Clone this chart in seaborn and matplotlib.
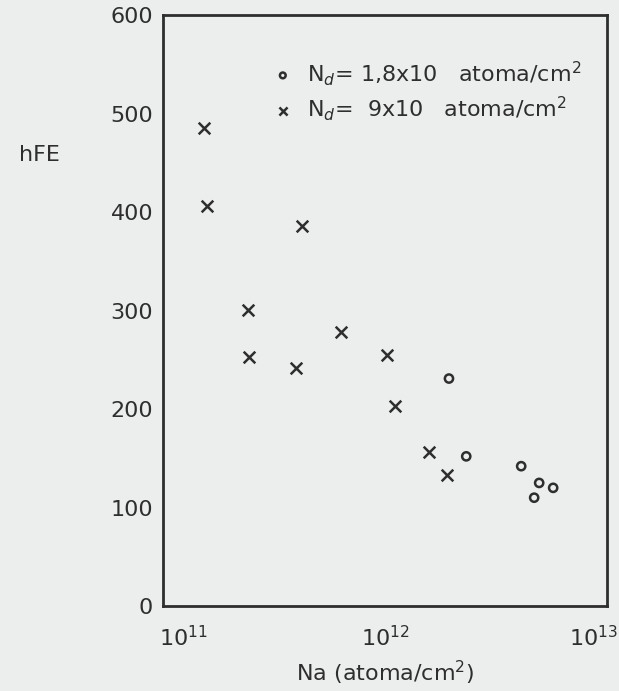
import numpy as np
import pandas as pd
import matplotlib
matplotlib.use('Agg')
import matplotlib.pyplot as plt
import matplotlib.transforms as mtransforms
import seaborn as sns

# series
na_cross = [1.53e11, 1.58e11, 4.23e11, 2.42e11, 2.44e11, 6.34e11,
            3.97e11, 1.02e12, 1.11e12, 1.58e12, 1.90e12]
hfe_cross = [485, 406, 386, 301, 253, 278, 242, 255, 203, 156, 133]
na_circle = [1.94e12, 2.32e12, 4.10e12, 4.94e12, 5.71e12, 4.69e12]
hfe_circle = [231, 152, 142, 125, 120, 110]

label_circle = r'N$_d$= 1,8x10   atoma/cm$^2$'
label_cross = r'N$_d$=  9x10   atoma/cm$^2$'
y_ticks = [0, 100, 200, 300, 400, 500, 600]
x_ticks = [1e11, 1e12, 1e13]
x_ticklabels = [r'10$^{11}$', r'10$^{12}$', r'10$^{13}$']

df_cross = pd.DataFrame({'Na': na_cross, 'hFE': hfe_cross})
df_circle = pd.DataFrame({'Na': na_circle, 'hFE': hfe_circle})

sns.set_style('white')
plt.rcParams['font.family'] = ['DejaVu Sans']
ink = '#2e2e2e'
paper = '#eceeed'

fig = plt.figure(figsize=(6.19, 6.91), dpi=100, facecolor=paper)
ax = fig.add_axes([0.263, 0.123, 0.718, 0.855], facecolor=paper)

sns.scatterplot(data=df_circle, x='Na', y='hFE', ax=ax, marker='o', s=35,
                facecolor='none', edgecolor=ink, linewidth=1.8, label=label_circle)
sns.scatterplot(data=df_cross, x='Na', y='hFE', ax=ax, marker='x', s=70,
                color=ink, linewidth=1.8, label=label_cross)

ax.set_xscale('log')
ax.set_xlim(1e11, 1e13)
ax.set_ylim(0, 600)
ax.set_xticks(x_ticks)
ax.set_xticklabels(x_ticklabels)
ax.minorticks_off()
ax.set_yticks(y_ticks)
ax.tick_params(axis='x', direction='in', length=7, width=1.5, colors=ink,
               labelsize=16, pad=14)
ax.tick_params(axis='y', direction='out', length=5, width=1.5, colors=ink,
               labelsize=16, pad=2)
for sp in ax.spines.values():
    sp.set_color(ink)
    sp.set_linewidth(2)

# end labels sit inside the corners like in the scan
xl = ax.get_xticklabels()
xl[0].set_ha('left')
xl[0].set_transform(xl[0].get_transform() +
                    mtransforms.ScaledTranslation(-3 / 72, 0, fig.dpi_scale_trans))
xl[2].set_ha('right')
xl[2].set_transform(xl[2].get_transform() +
                    mtransforms.ScaledTranslation(8 / 72, 0, fig.dpi_scale_trans))

ax.set_xlabel(r'Na (atoma/cm$^2$)', fontsize=16, color=ink, labelpad=6)
ax.set_ylabel('')
fig.text(0.03, 0.775, 'hFE', fontsize=16, color=ink, ha='left', va='center')

leg = ax.legend(loc='upper left', bbox_to_anchor=(0.2, 0.96), frameon=False,
                fontsize=16, handletextpad=0.6, labelspacing=0.3,
                handlelength=1.0, markerscale=0.7)
for t in leg.get_texts():
    t.set_color(ink)

fig.savefig('out.png', dpi=100, facecolor=paper)
